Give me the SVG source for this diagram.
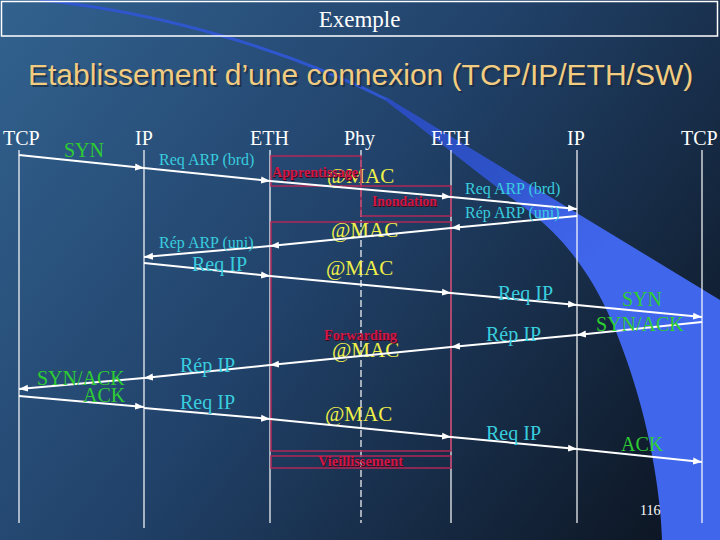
<svg xmlns="http://www.w3.org/2000/svg" width="720" height="540" viewBox="0 0 720 540">
<defs>
  <linearGradient id="bg" x1="0" y1="0" x2="720" y2="540" gradientUnits="userSpaceOnUse">
    <stop offset="0" stop-color="#32628F"/>
    <stop offset="0.45" stop-color="#21426A"/>
    <stop offset="1" stop-color="#0B121D"/>
  </linearGradient>
  <linearGradient id="sw" x1="400" y1="100" x2="580" y2="280" gradientUnits="userSpaceOnUse">
    <stop offset="0" stop-color="#2A4CBE"/>
    <stop offset="0.5" stop-color="#2E52C8"/>
    <stop offset="0.75" stop-color="#3D61E4"/>
    <stop offset="1" stop-color="#4066EC"/>
  </linearGradient>
  <marker id="ah" markerUnits="userSpaceOnUse" markerWidth="9" markerHeight="8" refX="9" refY="4" orient="auto">
    <path d="M0,0.5 L9,4 L0,7.5 z" fill="#FFFFFF"/>
  </marker>
  <style>
    .hdr{font-family:"Liberation Serif","Times New Roman",serif;font-size:20px;fill:#FFFFFF}
    .life{stroke:#FFFFFF;stroke-width:1.2;fill:none}
    .arr{stroke:#FFFFFF;stroke-width:2;fill:none;marker-end:url(#ah)}
    .cy{font-family:"Liberation Serif","Times New Roman",serif;fill:#38CCDE}
    .gr{font-family:"Liberation Serif","Times New Roman",serif;font-size:20px;fill:#2ECC33}
    .mac{font-family:"Liberation Serif","Times New Roman",serif;font-size:21px;fill:#F0F048}
    .box{fill:none;stroke:#B02858;stroke-width:1.5}
    .red{font-family:"Liberation Serif","Times New Roman",serif;font-size:15px;font-weight:bold;fill:#D0184A}
    .redsh{font-family:"Liberation Serif","Times New Roman",serif;font-size:15px;font-weight:bold;fill:#3A0818}
  </style>
</defs>

<rect x="0" y="0" width="720" height="540" fill="url(#bg)"/>
<path d="M40,0 C160,12 290,50 392,102" fill="none" stroke="#2F56CC" stroke-width="3"/>
<path d="M386,97 L720,300 L720,540 L662,540 C660,480 645,400 612,322 C590,270 560,235 530,212 C480,175 430,135 386,101 Z" fill="url(#sw)"/>

<g id="header">
  <rect x="1.5" y="1.5" width="716" height="34.5" fill="none" stroke="#FFFFFF" stroke-width="1.5"/>
  <text x="359.5" y="27" font-family="'Liberation Serif','Times New Roman',serif" font-size="23" fill="#FFFFFF" text-anchor="middle">Exemple</text>
</g>
<g id="title">
  <text x="30" y="87" font-family="'Liberation Sans',Arial,sans-serif" font-size="30" fill="#1A2A3C" opacity="0.7">Etablissement d’une connexion (TCP/IP/ETH/SW)</text>
  <text x="28" y="85" font-family="'Liberation Sans',Arial,sans-serif" font-size="30" fill="#F2CC80">Etablissement d’une connexion (TCP/IP/ETH/SW)</text>
</g>

<g id="tcp-left"><text class="hdr" x="3" y="145">TCP</text><line class="life" x1="19" y1="150" x2="19" y2="523"/></g>
<g id="ip-left"><text class="hdr" x="135" y="145">IP</text><line class="life" x1="144" y1="150" x2="144" y2="528"/></g>
<g id="eth-left"><text class="hdr" x="250" y="145">ETH</text><line class="life" x1="270" y1="150" x2="270" y2="523"/></g>
<g id="phy"><text class="hdr" x="344" y="145">Phy</text><line class="life" x1="361" y1="150" x2="361" y2="523" stroke-dasharray="7,3"/></g>
<g id="eth-right"><text class="hdr" x="431" y="145">ETH</text><line class="life" x1="451" y1="150" x2="451" y2="523"/></g>
<g id="ip-right"><text class="hdr" x="567" y="145">IP</text><line class="life" x1="577" y1="150" x2="577" y2="523"/></g>
<g id="tcp-right"><text class="hdr" x="681" y="145">TCP</text><line class="life" x1="702" y1="150" x2="702" y2="523"/></g>

<g id="switch-boxes">
  <text class="mac" x="327" y="183">@MAC</text>
  <text class="mac" x="331" y="237">@MAC</text>
  <text class="mac" x="326" y="275">@MAC</text>
  <text class="mac" x="332" y="357">@MAC</text>
  <text class="mac" x="325" y="421">@MAC</text>
  <g id="apprentissage">
    <rect class="box" x="271" y="156" width="90" height="30"/>
    <text class="redsh" x="273" y="178" textLength="86" lengthAdjust="spacingAndGlyphs">Apprentissage</text>
    <text class="red" x="272" y="177" textLength="86" lengthAdjust="spacingAndGlyphs">Apprentissage</text>
  </g>
  <g id="inondation">
    <rect class="box" x="361" y="186" width="90" height="30"/>
    <text class="redsh" x="373" y="207" textLength="65" lengthAdjust="spacingAndGlyphs">Inondation</text>
    <text class="red" x="372" y="206" textLength="65" lengthAdjust="spacingAndGlyphs">Inondation</text>
  </g>
  <g id="table">
    <rect class="box" x="271" y="222" width="180" height="229"/>
    <text class="redsh" x="325" y="341" textLength="73" lengthAdjust="spacingAndGlyphs">Forwarding</text>
    <text class="red" x="324" y="340" textLength="73" lengthAdjust="spacingAndGlyphs">Forwarding</text>
  </g>
  <g id="vieillissement">
    <rect class="box" x="271" y="456" width="180" height="12"/>
    <text class="redsh" x="319" y="467" textLength="85" lengthAdjust="spacingAndGlyphs">Vieillissement</text>
    <text class="red" x="318" y="466" textLength="85" lengthAdjust="spacingAndGlyphs">Vieillissement</text>
  </g>
</g>

<g id="connectors">
  <line class="arr" x1="19" y1="155" x2="144" y2="168"/>
  <line class="arr" x1="144" y1="168" x2="270" y2="181"/>
  <line class="arr" x1="270" y1="181" x2="451" y2="197"/>
  <line class="arr" x1="451" y1="197" x2="577" y2="209"/>
  <line class="arr" x1="577" y1="216" x2="451" y2="228"/>
  <line class="arr" x1="451" y1="228" x2="270" y2="246"/>
  <line class="arr" x1="270" y1="246" x2="144" y2="257"/>
  <line class="arr" x1="144" y1="263" x2="270" y2="276"/>
  <line class="arr" x1="270" y1="276" x2="451" y2="293"/>
  <line class="arr" x1="451" y1="293" x2="577" y2="305"/>
  <line class="arr" x1="577" y1="305" x2="702" y2="317"/>
  <line class="arr" x1="702" y1="322" x2="577" y2="335"/>
  <line class="arr" x1="577" y1="335" x2="451" y2="347"/>
  <line class="arr" x1="451" y1="347" x2="270" y2="365"/>
  <line class="arr" x1="270" y1="365" x2="144" y2="378"/>
  <line class="arr" x1="144" y1="378" x2="19" y2="389"/>
  <line class="arr" x1="19" y1="396" x2="144" y2="407"/>
  <line class="arr" x1="144" y1="408" x2="270" y2="419"/>
  <line class="arr" x1="270" y1="419" x2="451" y2="437"/>
  <line class="arr" x1="451" y1="437" x2="577" y2="449"/>
  <line class="arr" x1="577" y1="449" x2="702" y2="462"/>
</g>

<g id="labels">
  <text class="gr" x="64" y="157">SYN</text>
  <text class="cy" font-size="16" x="159" y="165">Req ARP (brd)</text>
  <text class="cy" font-size="16" x="465" y="194">Req ARP (brd)</text>
  <text class="cy" font-size="16" x="465" y="218">Rép ARP (uni)</text>
  <text class="cy" font-size="16" x="159" y="248">Rép ARP (uni)</text>
  <text class="cy" font-size="20" x="192" y="271">Req IP</text>
  <text class="cy" font-size="20" x="498" y="300">Req IP</text>
  <text class="gr" x="622" y="306">SYN</text>
  <text class="gr" x="596" y="331">SYN/ACK</text>
  <text class="cy" font-size="20" x="486" y="341">Rép IP</text>
  <text class="cy" font-size="20" x="180" y="372">Rép IP</text>
  <text class="gr" x="37" y="385">SYN/ACK</text>
  <text class="gr" x="83" y="402">ACK</text>
  <text class="cy" font-size="20" x="180" y="409">Req IP</text>
  <text class="cy" font-size="20" x="486" y="440">Req IP</text>
  <text class="gr" x="621" y="451">ACK</text>
</g>

<text x="640" y="515" font-family="'Liberation Serif','Times New Roman',serif" font-size="14" fill="#FFFFFF">116</text>
</svg>
